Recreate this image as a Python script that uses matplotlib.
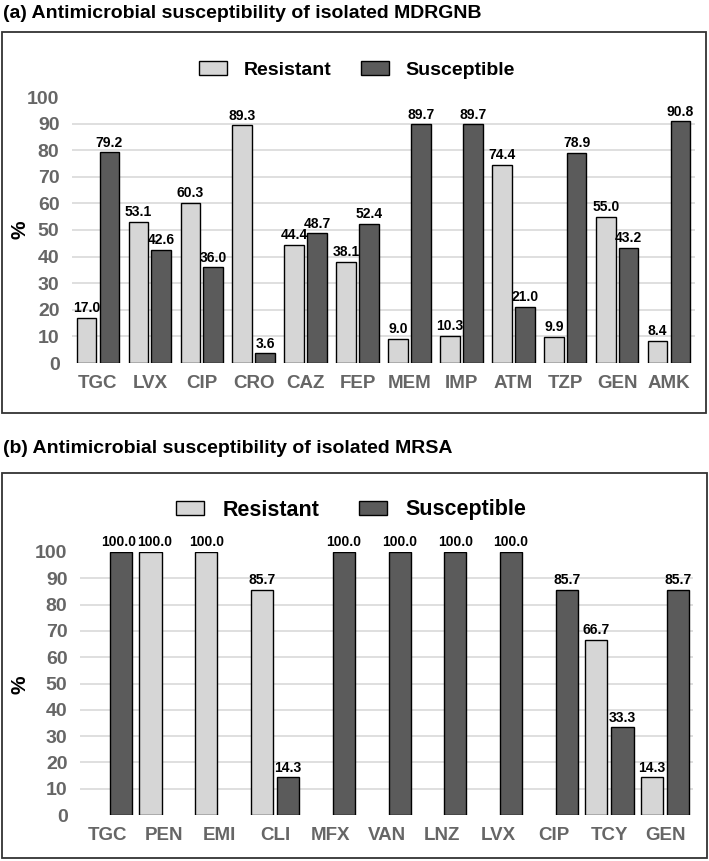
import numpy as np
import matplotlib
matplotlib.use("Agg")
import matplotlib.pyplot as plt
from matplotlib.patches import Rectangle

plt.rcParams['font.family'] = ['Liberation Sans', 'DejaVu Sans']

# Panel (a) MDRGNB
cats_a = ["TGC", "LVX", "CIP", "CRO", "CAZ", "FEP", "MEM", "IMP", "ATM", "TZP", "GEN", "AMK"]
res_a = [17.0, 53.1, 60.3, 89.3, 44.4, 38.1, 9.0, 10.3, 74.4, 9.9, 55.0, 8.4]
sus_a = [79.2, 42.6, 36.0, 3.6, 48.7, 52.4, 89.7, 89.7, 21.0, 78.9, 43.2, 90.8]

# Panel (b) MRSA
cats_b = ["TGC", "PEN", "EMI", "CLI", "MFX", "VAN", "LNZ", "LVX", "CIP", "TCY", "GEN"]
res_b = [0, 100.0, 100.0, 85.7, 0, 0, 0, 0, 0, 66.7, 14.3]
sus_b = [100.0, 0, 0, 14.3, 100.0, 100.0, 100.0, 100.0, 85.7, 33.3, 85.7]

light = "#d6d6d6"
dark = "#5b5b5b"
W, H = 709, 861

fig = plt.figure(figsize=(W / 100, H / 100), dpi=100)


def px_axes(left, top, right, bottom):
    return fig.add_axes([left / W, 1 - bottom / H, (right - left) / W, (bottom - top) / H])


def draw_panel(ax, cats, res, sus, width, off, nudge_r=None, nudge_s=None):
    nudge_r = nudge_r or {}
    nudge_s = nudge_s or {}
    x = np.arange(len(cats))
    r = np.array([v if v > 0 else np.nan for v in res])
    s = np.array([v if v > 0 else np.nan for v in sus])
    b1 = ax.bar(x - off, r, width, color=light, edgecolor="black", linewidth=1, zorder=3, label="Resistant")
    b2 = ax.bar(x + off, s, width, color=dark, edgecolor="black", linewidth=1, zorder=3, label="Susceptible")
    for xi, v in zip(x, res):
        if v > 0:
            ax.text(xi - off + nudge_r.get(xi, 0), v + 1, f"{v:.1f}", ha="center", va="bottom",
                    fontsize=10, fontweight="bold", zorder=4)
    for xi, v in zip(x, sus):
        if v > 0:
            ax.text(xi + off + nudge_s.get(xi, 0), v + 1, f"{v:.1f}", ha="center", va="bottom",
                    fontsize=10, fontweight="bold", zorder=4)
    for g in range(10, 100, 10):
        ax.axhline(g, color="#d9d9d9", linewidth=1.2, zorder=1)
    ax.set_xlim(-0.5, len(cats) - 0.5)
    ax.set_ylim(0, 100)
    ax.set_yticks(range(0, 101, 10))
    ax.set_xticks(x)
    ax.set_xticklabels(cats)
    ax.tick_params(length=0, labelsize=13.5, labelcolor="#666666")
    ax.tick_params(axis="y", labelsize=14, pad=9)
    ax.tick_params(axis="x", pad=9)
    for lab in ax.get_xticklabels() + ax.get_yticklabels():
        lab.set_fontweight("bold")
    for sp in ax.spines.values():
        sp.set_visible(False)
    return b1, b2


# panel a
ax1 = px_axes(72, 97, 695, 363)
h1 = draw_panel(ax1, cats_a, res_a, sus_a, 0.38, 0.22)
fig.text(20 / W, 1 - 230 / H, "%", rotation=90, fontsize=15, fontweight="bold", ha="center", va="center")
fig.text(3 / W, 1 - 13 / H, "(a) Antimicrobial susceptibility of isolated MDRGNB",
         fontsize=14, fontweight="bold", va="center", ha="left")
fig.add_artist(Rectangle((2 / W, 1 - 413 / H), 704 / W, 381 / H, transform=fig.transFigure,
                         fill=False, edgecolor="#333333", linewidth=1.3))
fig.legend(h1, ["Resistant", "Susceptible"], loc="center", bbox_to_anchor=(357 / W, 1 - 70 / H),
           ncol=2, frameon=False, prop={"size": 14, "weight": "bold"},
           handlelength=1.45, handleheight=0.7, handletextpad=0.85, columnspacing=1.5)

# panel b
ax2 = px_axes(80, 552, 693, 815)
h2 = draw_panel(ax2, cats_b, res_b, sus_b, 0.395, 0.235, nudge_r={1: 0.07}, nudge_s={0: -0.05})
fig.text(20 / W, 1 - 685 / H, "%", rotation=90, fontsize=15, fontweight="bold", ha="center", va="center")
fig.text(3 / W, 1 - 448 / H, "(b) Antimicrobial susceptibility of isolated MRSA",
         fontsize=14, fontweight="bold", va="center", ha="left")
fig.add_artist(Rectangle((2 / W, 1 - 858 / H), 705 / W, 385 / H, transform=fig.transFigure,
                         fill=False, edgecolor="#333333", linewidth=1.3))
fig.legend(h2, ["Resistant", "Susceptible"], loc="center", bbox_to_anchor=(351 / W, 1 - 510 / H),
           ncol=2, frameon=False, prop={"size": 15.5, "weight": "bold"},
           handlelength=1.3, handleheight=0.65, handletextpad=0.85, columnspacing=1.85)

fig.savefig("out.png", dpi=100)
